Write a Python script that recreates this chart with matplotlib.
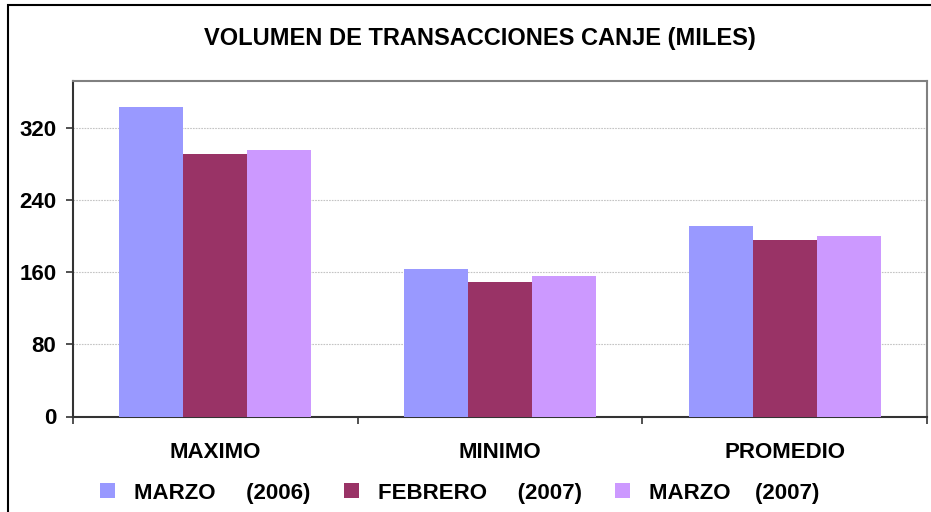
import matplotlib
matplotlib.use("Agg")
import matplotlib.pyplot as plt
from matplotlib.patches import Rectangle
import numpy as np

plt.rcParams['font.family'] = ['Liberation Sans', 'DejaVu Sans']
plt.rcParams['font.weight'] = 'bold'

categories = ["MAXIMO", "MINIMO", "PROMEDIO"]
series_names = ["MARZO     (2006)", "FEBRERO     (2007)", "MARZO    (2007)"]
marzo_2006 = [343, 164, 211]
febrero_2007 = [291, 149, 196]
marzo_2007 = [296, 156, 200]
series_values = [marzo_2006, febrero_2007, marzo_2007]
colors = ["#9999FF", "#993366", "#CC99FF"]
yticks = [0, 80, 160, 240, 320]
title = "VOLUMEN DE TRANSACCIONES CANJE (MILES)"

W, H = 931, 512
fig = plt.figure(figsize=(W / 100, H / 100), dpi=100)
fig.patch.set_facecolor("white")

# outer chart border
fig.patches.append(Rectangle((8 / W, -0.05), 1.2, (H - 5) / H + 0.05,
                             transform=fig.transFigure, fill=False,
                             edgecolor="black", linewidth=1.5))

ax = fig.add_axes([73 / W, (H - 416.5) / H, (927 - 73) / W, (416.5 - 81) / H])

x = np.arange(len(categories))
bw = 0.2245
for i, (vals, name, c) in enumerate(zip(series_values, series_names, colors)):
    ax.bar(x + (i - 1) * bw, vals, width=bw, color=c, label=name, zorder=3,
           linewidth=0)

ax.set_xlim(-0.5, len(categories) - 0.5)
ax.set_ylim(0, 372)
ax.set_yticks(yticks)
ax.set_yticklabels([str(v) for v in yticks], fontsize=16, fontweight="bold")
ax.yaxis.grid(True, color="#c4c4c4", linestyle=(0, (1.5, 1)), linewidth=0.8, zorder=0)
ax.set_axisbelow(True)

ax.set_xticks(x)
ax.set_xticklabels(categories, fontsize=16, fontweight="bold")
ax.set_xticks(np.arange(-0.5, len(categories)), minor=True)
ax.tick_params(axis="x", which="major", length=0, pad=18)
ax.tick_params(axis="x", which="minor", length=5, width=1.2, color="#333333", direction="out")
ax.tick_params(axis="y", which="major", length=5, width=1.2, color="#333333", pad=7, direction="out")

for s in ["left", "bottom"]:
    ax.spines[s].set_color("#333333")
    ax.spines[s].set_linewidth(1.5)
for s in ["top", "right"]:
    ax.spines[s].set_color("#808080")
    ax.spines[s].set_linewidth(1.5)

fig.text(480 / W, 1 - 38 / H, title, ha="center", va="center",
         fontsize=17, fontweight="bold")

leg = ax.legend(loc="center", bbox_to_anchor=(460 / W, 1 - 493 / H),
                bbox_transform=fig.transFigure, ncol=3, frameon=False,
                fontsize=16, handlelength=0.68, handleheight=0.68,
                handletextpad=0.85, columnspacing=1.5, borderpad=0,
                borderaxespad=0)
for t in leg.get_texts():
    t.set_fontweight("bold")

fig.savefig("out.png", dpi=100)
